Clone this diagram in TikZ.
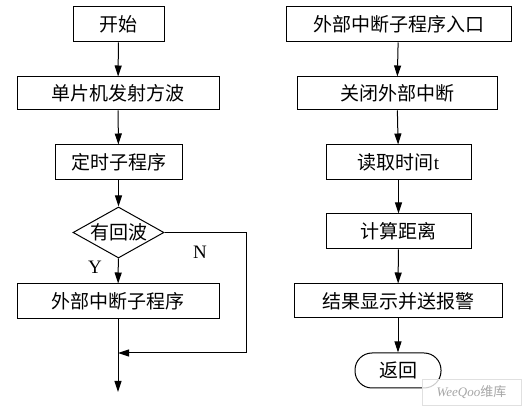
\documentclass[tikz,border=0pt]{standalone}
\usepackage{fontspec}
\setmainfont{Liberation Serif}
\newfontfamily\cjk{Noto Sans CJK SC}
\usetikzlibrary{shapes.geometric, arrows.meta}

\tikzset{
    procbox/.style={draw, line width=1pt, inner sep=0pt, font=\fontsize{19}{21}\selectfont\cjk},
    termbox/.style={procbox, rounded corners=17pt},
    testbox/.style={procbox, diamond, minimum width=91pt, minimum height=51pt},
    flow/.style={-{Triangle[length=11pt, width=7pt]}, line width=1pt},
    line/.style={line width=1pt}
}

\begin{document}
\begin{tikzpicture}[x=1pt, y=-1pt]
    \useasboundingbox (0,0) rectangle (528,411);
    % main program
    \node[procbox, minimum width=91pt, minimum height=35pt] (start) at (118.5,24.5) {开始};
    \node[procbox, minimum width=202pt, minimum height=33pt] (emit) at (118,93.5) {单片机发射方波};
    \node[procbox, minimum width=127pt, minimum height=35pt] (timer) at (118.5,162.5) {定时子程序};
    \node[testbox] (echo) at (118.5,232.5) {\makebox[0pt]{有回波}};
    \node[procbox, minimum width=202pt, minimum height=35pt] (isr) at (118,301.5) {外部中断子程序};
    \coordinate (corner1) at (246,232.5);
    \coordinate (corner2) at (246,353);
    \coordinate (join) at (118,353);
    \coordinate (exit) at (118,392);
    \draw[flow] (start) -- (emit);
    \draw[flow] (emit) -- (timer);
    \draw[flow] (timer) -- (echo);
    \draw[flow] (echo) -- (isr);
    \draw[line] (isr.south) -- (join);
    \draw[flow] (join) -- (exit);
    \draw[line] (echo.east) -- (corner1) -- (corner2);
    \draw[flow] (corner2) -- (join);
    \node[font=\fontsize{19}{21}\selectfont] (yes) at (95,267) {Y};
    \node[font=\fontsize{19}{21}\selectfont] (no) at (200,252) {N};
    % interrupt routine
    \node[procbox, minimum width=225pt, minimum height=35pt] (entry) at (398.5,24.5) {外部中断子程序入口};
    \node[procbox, minimum width=200pt, minimum height=33pt] (close) at (397,93.5) {关闭外部中断};
    \node[procbox, minimum width=145pt, minimum height=35pt] (read) at (398.5,162.5) {读取时间{\rmfamily t}};
    \node[procbox, minimum width=145pt, minimum height=35pt] (calc) at (398.5,231.5) {计算距离};
    \node[procbox, minimum width=208pt, minimum height=34pt] (result) at (398,301) {结果显示并送报警};
    \node[termbox, minimum width=86pt, minimum height=35pt] (ret) at (398,370.5) {返回};
    \draw[flow] (entry) -- (close);
    \draw[flow] (close) -- (read);
    \draw[flow] (read) -- (calc);
    \draw[flow] (calc) -- (result);
    \draw[flow] (result) -- (ret);
    % watermark
    \node[draw=black!12, fill=white, fill opacity=0.8, text opacity=1, minimum width=99pt, minimum height=26pt,
        font=\fontsize{13}{15}\selectfont\itshape, text=black!35] (mark) at (471.5,392) {WeeQoo{\cjk\upshape 维库}};
\end{tikzpicture}
\end{document}
